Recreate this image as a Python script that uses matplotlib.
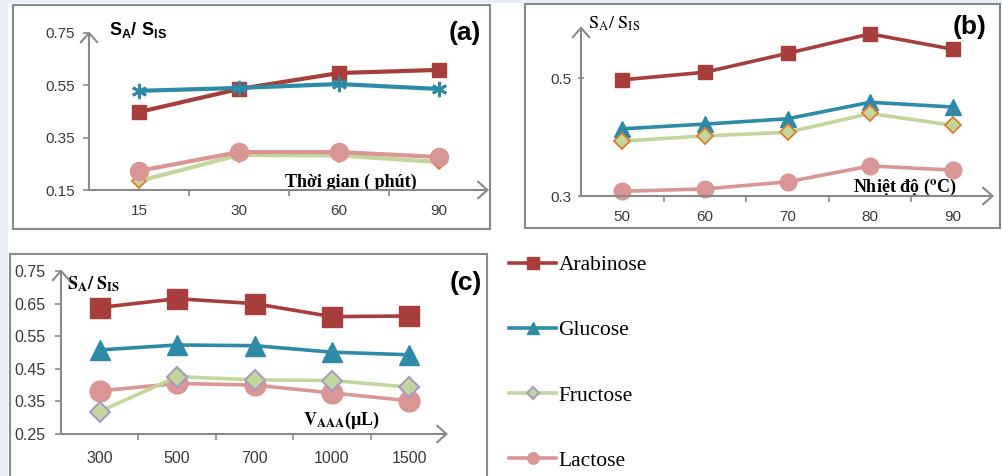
import numpy as np
import matplotlib.pyplot as plt
from matplotlib.patches import Rectangle

W, H = 1002, 476

names = ['Arabinose', 'Glucose', 'Fructose', 'Lactose']

time_labels = ['15', '30', '60', '90']
temp_labels = ['50', '60', '70', '80', '90']
vol_labels = ['300', '500', '700', '1000', '1500']

# (a) reaction time
time_ara = [0.448, 0.536, 0.597, 0.609]
time_glu = [0.529, 0.540, 0.555, 0.536]
time_fru = [0.184, 0.284, 0.282, 0.257]
time_lac = [0.223, 0.295, 0.295, 0.276]

# (b) temperature
temp_ara = [0.497, 0.510, 0.542, 0.575, 0.549]
temp_glu = [0.414, 0.422, 0.431, 0.459, 0.451]
temp_fru = [0.393, 0.402, 0.408, 0.440, 0.420]
temp_lac = [0.308, 0.312, 0.324, 0.351, 0.344]

# (c) reagent volume
vol_ara = [0.638, 0.665, 0.650, 0.610, 0.612]
vol_glu = [0.508, 0.523, 0.521, 0.501, 0.493]
vol_fru = [0.319, 0.426, 0.416, 0.414, 0.394]
vol_lac = [0.382, 0.405, 0.400, 0.376, 0.352]

RED = '#A83E3B'
TEAL = '#2E8BA8'
GREEN = '#C3D69B'
PINK = '#D99694'
ORANGE = '#E07B2C'
LAV = '#A59CC4'
GREY = '#898989'
TXT = '#3A3A3A'
SERIF = ['Liberation Serif', 'DejaVu Serif']

plt.rcParams['font.family'] = ['Liberation Sans', 'DejaVu Sans']
plt.rcParams['mathtext.bf'] = 'Liberation Sans:bold'
plt.rcParams['mathtext.rm'] = 'Liberation Sans'

fig = plt.figure(figsize=(W / 100, H / 100), dpi=100, facecolor='#E8EDF8')

# background canvas in pixel coordinates
bg = fig.add_axes([0, 0, 1, 1])
bg.set_xlim(0, W)
bg.set_ylim(H, 0)
bg.axis('off')
bg.set_zorder(-1)
bg.add_patch(Rectangle((8, 3), W, H, facecolor='white', edgecolor='none'))
for (x0, y0, x1, y1) in [(13, 5, 490, 229), (525, 4, 1000, 228), (10, 254, 487, 480)]:
    bg.add_patch(Rectangle((x0, y0), x1 - x0, y1 - y0, facecolor='white',
                           edgecolor=GREY, lw=1.5))


def make_panel(l, t, r, b, labels, ylim, yticks, yfmt, fs, xpad, ypad, ydir='out'):
    ax = fig.add_axes([l / W, (H - b) / H, (r - l) / W, (b - t) / H])
    ax.set_facecolor('none')
    n = len(labels)
    ax.set_xlim(-0.5, n - 0.5)
    ax.set_ylim(*ylim)
    for s in ax.spines.values():
        s.set_visible(False)
    ax.set_xticks(range(n))
    ax.set_xticklabels(labels)
    ax.set_xticks(np.arange(0.5, n - 1, 1), minor=True)
    ax.tick_params(axis='x', which='major', length=0, pad=xpad, labelsize=fs, labelcolor=TXT)
    ax.tick_params(axis='x', which='minor', length=4, width=1.2, color=GREY)
    ax.set_yticks(yticks)
    ax.set_yticklabels([yfmt.format(v) for v in yticks])
    ax.tick_params(axis='y', length=4, width=1.2, color=GREY, pad=ypad,
                   labelsize=fs, labelcolor=TXT, direction=ydir)
    arrow = dict(arrowstyle='->,head_length=0.45,head_width=0.4', color=GREY, lw=1.5,
                 mutation_scale=15, shrinkA=0, shrinkB=0)
    ax.annotate('', xy=(1.0, 0), xytext=(0, 0), xycoords='axes fraction', arrowprops=arrow)
    ax.annotate('', xy=(0, 1.01), xytext=(0, 0), xycoords='axes fraction', arrowprops=arrow)
    return ax


# (a)
ax_a = make_panel(89, 33, 489, 190, time_labels, (0.15, 0.75),
                  [0.15, 0.35, 0.55, 0.75], '{:.2f}', 11, 10, 6)
xa = np.arange(len(time_labels))
ax_a.plot(xa, time_ara, color=RED, lw=3, marker='s', ms=10.5, mfc=RED, mec=RED, clip_on=False)
ax_a.plot(xa, time_glu, color=TEAL, lw=3, marker=(6, 2, 0), ms=11, mec=TEAL, mew=2, clip_on=False)
ax_a.plot(xa, time_fru, color=GREEN, lw=3, marker='D', ms=7.5, mfc=GREEN, mec=ORANGE, mew=1.3, clip_on=False)
ax_a.plot(xa, time_lac, color=PINK, lw=3, marker='o', ms=13, mfc=PINK, mec=PINK, clip_on=False)

# (b)
ax_b = make_panel(581, 28, 994, 196, temp_labels, (0.3, 0.585),
                  [0.3, 0.5], '{:.1f}', 11, 10, 5, ydir='inout')
xb = np.arange(len(temp_labels))
ax_b.plot(xb, temp_ara, color=RED, lw=2.6, marker='s', ms=10, mfc=RED, mec=RED, clip_on=False)
ax_b.plot(xb, temp_glu, color=TEAL, lw=2.6, marker='^', ms=11, mfc=TEAL, mec=TEAL, clip_on=False)
ax_b.plot(xb, temp_fru, color=GREEN, lw=2.6, marker='D', ms=8, mfc=GREEN, mec=ORANGE, mew=1.3, clip_on=False)
ax_b.plot(xb, temp_lac, color=PINK, lw=2.6, marker='o', ms=12, mfc=PINK, mec=PINK, clip_on=False)

# (c)
ax_c = make_panel(61, 271, 448, 434, vol_labels, (0.25, 0.75),
                  [0.25, 0.35, 0.45, 0.55, 0.65, 0.75], '{:.2f}', 11.5, 12, 7)
xc = np.arange(len(vol_labels))
l_ara, = ax_c.plot(xc, vol_ara, color=RED, lw=2.6, marker='s', ms=15, mfc=RED, mec=RED, clip_on=False)
l_glu, = ax_c.plot(xc, vol_glu, color=TEAL, lw=2.6, marker='^', ms=15, mfc=TEAL, mec=TEAL, clip_on=False)
l_lac, = ax_c.plot(xc, vol_lac, color=PINK, lw=2.6, marker='o', ms=15, mfc=PINK, mec=PINK, clip_on=False)
l_fru, = ax_c.plot(xc, vol_fru, color=GREEN, lw=2.6, marker='D', ms=10.5, mfc=GREEN, mec=LAV, mew=1.5, clip_on=False)

# labels
bg.text(109, 30, r'$\mathbf{S_{A}/\ S_{IS}}$', fontsize=13, ha='left', va='center',
        math_fontfamily='custom', color='black')
bg.text(465, 33, '(a)', fontsize=19, fontweight='bold', ha='center', va='center')
bg.text(285, 182, 'Thời gian ( phút)', fontsize=13, fontweight='bold', family=SERIF,
        ha='left', va='center')

bg.text(588, 24, r'$\mathrm{S_{A}/\ S_{IS}}$', fontsize=13, ha='left', va='center',
        math_fontfamily='stix')
bg.text(970, 27, '(b)', fontsize=19, fontweight='bold', ha='center', va='center')
bg.text(853, 187, r'Nhiệt độ ($^{\mathbf{o}}$C)', fontsize=13, fontweight='bold', family=SERIF,
        math_fontfamily='stix', ha='left', va='center')

bg.text(67, 284, r'$\mathbf{S_{A}/\ S_{IS}}$', fontsize=13, ha='left', va='center',
        math_fontfamily='stix')
bg.text(466, 283, '(c)', fontsize=19, fontweight='bold', ha='center', va='center')
bg.text(303, 420, r'$\mathbf{V_{AAA}}$(µL)', fontsize=13, fontweight='bold', family=SERIF,
        math_fontfamily='stix', ha='left', va='center')

fig.legend([l_ara, l_glu, l_fru, l_lac], names, loc='upper left',
           bbox_to_anchor=(509 / W, (H - 255) / H), frameon=False,
           prop={'family': SERIF, 'size': 15.5}, handlelength=2.2, handletextpad=0.1,
           labelspacing=2.1, markerscale=0.55, borderpad=0, borderaxespad=0)

fig.savefig('out.png', dpi=100, facecolor=fig.get_facecolor())
